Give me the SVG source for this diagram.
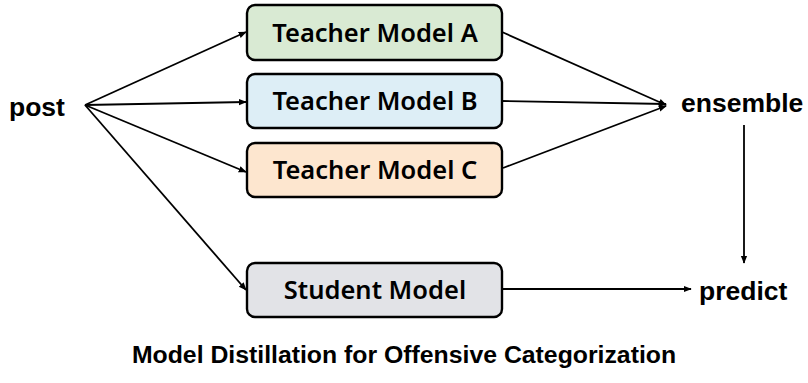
<svg xmlns="http://www.w3.org/2000/svg" width="808" height="383" viewBox="0 0 808 383">
<style>
.box{stroke:#000;stroke-width:2.4}
.bt{font-family:"Noto Sans","Open Sans",sans-serif;font-weight:600;font-size:25.5px;text-anchor:middle}
.lt{font-family:"Liberation Sans",Arial,sans-serif;font-weight:bold;font-size:26.5px}
.c{stroke:#000;stroke-width:1.8;fill:none;marker-end:url(#ah)}
</style>
<defs>
<marker id="ah" viewBox="0 0 10 10" refX="9" refY="5" markerWidth="4.5" markerHeight="4.5" markerUnits="strokeWidth" orient="auto"><path d="M0,1 L10,5 L0,9 z" fill="#000"/></marker>
</defs>
<rect width="808" height="383" fill="#fff"/>
<g id="post"><text class="lt" x="9" y="116">post</text></g>
<g id="teacherA"><rect class="box" x="247" y="5" width="255" height="55" rx="8" fill="#d9ead3"/><text class="bt" x="375" y="42">Teacher Model A</text></g>
<g id="teacherB"><rect class="box" x="247" y="74" width="255" height="54" rx="8" fill="#ddeef6"/><text class="bt" x="375" y="110">Teacher Model B</text></g>
<g id="teacherC"><rect class="box" x="247" y="143" width="255" height="54" rx="8" fill="#fde6cf"/><text class="bt" x="375" y="179">Teacher Model C</text></g>
<g id="student"><rect class="box" x="247" y="263" width="255" height="54" rx="8" fill="#e2e3e7"/><text class="bt" x="375" y="299">Student Model</text></g>
<g id="ensemble"><text class="lt" x="681" y="112">ensemble</text></g>
<g id="predict"><text class="lt" x="699" y="300">predict</text></g>
<g id="title"><text class="lt" x="404" y="363" text-anchor="middle" style="font-size:24.8px">Model Distillation for Offensive Categorization</text></g>
<g id="connectors">
<path class="c" d="M85,105 L246,32"/>
<path class="c" d="M85,105 L246,102"/>
<path class="c" d="M85,105 L246,172"/>
<path class="c" d="M85,105 L246,290"/>
<path class="c" d="M502,32 L666,105"/>
<path class="c" d="M502,101 L666,104"/>
<path class="c" d="M503,168 L666,106"/>
<path class="c" d="M744,125 L744,263"/>
<path class="c" d="M502,289 L691,289"/>
</g>
</svg>
